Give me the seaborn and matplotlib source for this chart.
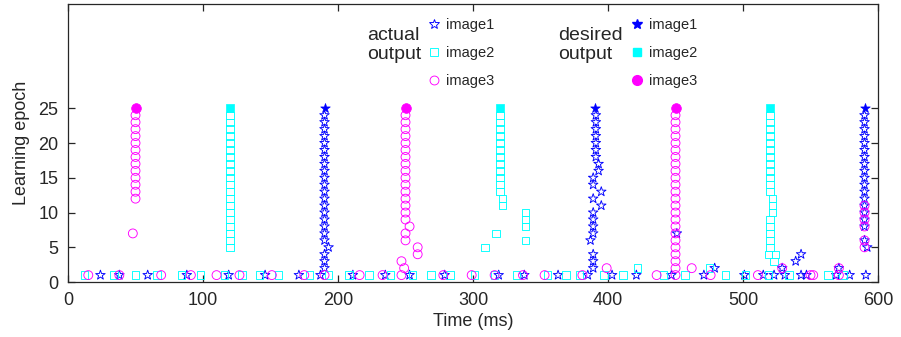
import pandas as pd
import seaborn as sns
import matplotlib.pyplot as plt
from matplotlib.lines import Line2D

# spike times (ms) of the actual output neurons, per learning epoch
image1_actual = {
    1: [24, 38, 59, 88, 119, 146, 171, 187, 211, 235, 253, 279, 319, 338, 363, 385, 403,
        421, 447, 471, 501, 515, 523, 531, 543, 547, 569, 579, 591],
    2: [190, 389, 479, 529, 571],
    3: [190, 389, 539],
    4: [190, 389, 543],
    5: [193, 592],
    6: [190, 387, 590],
    7: [190, 389, 451],
    8: [190, 389, 590],
    9: [190, 389, 590],
    10: [190, 389, 590],
    11: [190, 395, 590],
    12: [190, 389, 590],
    13: [190, 395, 590],
    14: [190, 389, 590],
    15: [190, 389, 590],
    16: [190, 393, 590],
    17: [190, 393, 590],
    18: [190, 391, 590],
    19: [190, 391, 590],
    20: [190, 391, 590],
    21: [190, 391, 590],
    22: [190, 391, 590],
    23: [190, 391, 590],
    24: [190, 391, 590],
}
image2_actual = {
    1: [12, 34, 50, 66, 84, 98, 116, 129, 142, 156, 179, 193, 208, 223, 239, 255, 269, 283,
        301, 316, 332, 355, 369, 379, 397, 411, 441, 457, 487, 502, 519, 534, 563, 574],
    2: [422, 475],
    3: [523],
    4: [519, 524],
    5: [120, 309, 520],
    6: [120, 339, 520],
    7: [120, 317, 520],
    8: [120, 339, 520],
    9: [120, 339, 520],
    10: [120, 339, 522],
    11: [120, 322, 522],
    12: [120, 322, 522],
    13: [120, 320, 520],
    14: [120, 320, 520],
    15: [120, 320, 520],
    16: [120, 320, 520],
    17: [120, 320, 520],
    18: [120, 320, 520],
    19: [120, 320, 520],
    20: [120, 320, 520],
    21: [120, 320, 520],
    22: [120, 320, 520],
    23: [120, 320, 520],
    24: [120, 320, 520],
}
image3_actual = {
    1: [15, 38, 69, 91, 110, 127, 151, 175, 190, 216, 233, 247, 278, 299, 316, 337, 353,
        381, 436, 450, 476, 511, 550, 552, 571],
    2: [249, 399, 450, 462, 529, 571],
    3: [247, 450],
    4: [259, 450],
    5: [259, 450, 590],
    6: [250, 450, 590],
    7: [48, 250, 450],
    8: [253, 450, 590],
    9: [250, 450, 590],
    10: [250, 450, 590],
    11: [250, 450, 590],
    12: [50, 250, 450],
    13: [50, 250, 450],
    14: [50, 250, 450],
    15: [50, 250, 450],
    16: [50, 250, 450],
    17: [50, 250, 450],
    18: [50, 250, 450],
    19: [50, 250, 450],
    20: [50, 250, 450],
    21: [50, 250, 450],
    22: [50, 250, 450],
    23: [50, 250, 450],
    24: [50, 250, 450],
}
# desired spike times, drawn at the last epoch
desired_epoch = 25
image1_desired = [190, 390, 590]
image2_desired = [120, 320, 520]
image3_desired = [50, 250, 450]

x_ticks = [0, 100, 200, 300, 400, 500, 600]
y_ticks = [0, 5, 10, 15, 20, 25]


def to_frame(spikes):
    rows = [(t, ep) for ep, times in spikes.items() for t in times]
    return pd.DataFrame(rows, columns=['time', 'epoch'])


actual = {'image1': to_frame(image1_actual), 'image2': to_frame(image2_actual),
          'image3': to_frame(image3_actual)}
desired = {'image1': pd.DataFrame({'time': image1_desired, 'epoch': desired_epoch}),
           'image2': pd.DataFrame({'time': image2_desired, 'epoch': desired_epoch}),
           'image3': pd.DataFrame({'time': image3_desired, 'epoch': desired_epoch})}
# marker, colour, open size, filled size
styles = {'image1': ('*', 'blue', 7.2, 7.2),
          'image2': ('s', 'cyan', 5.3, 5.3),
          'image3': ('o', 'magenta', 6.4, 7)}

sns.set_style('ticks')
plt.rcParams['font.family'] = ['Liberation Sans', 'DejaVu Sans']
fig, ax = plt.subplots(figsize=(9.01, 3.37), dpi=100)
fig.subplots_adjust(left=0.0755, right=0.9745, bottom=0.163, top=0.988)

for name, (mk, col, ms, _) in styles.items():
    sns.scatterplot(data=actual[name], x='time', y='epoch', marker=mk, s=ms ** 2,
                    color=col, facecolor='none', edgecolor=col, linewidth=0.65, ax=ax)
for name, (mk, col, _, ms) in styles.items():
    sns.scatterplot(data=desired[name], x='time', y='epoch', marker=mk, s=ms ** 2,
                    color=col, edgecolor=col, linewidth=0.5, ax=ax)

ax.set_xlim(0, 600)
ax.set_ylim(0, 40)
ax.set_xticks(x_ticks)
ax.set_yticks(y_ticks)
ax.tick_params(direction='in', top=True, right=True, length=5, width=0.9,
               labelsize=13, pad=7, color='#262626')
for sp in ax.spines.values():
    sp.set_color('#262626')
    sp.set_linewidth(0.9)
ax.set_xlabel('Time (ms)', fontsize=13, labelpad=3)
ax.set_ylabel('Learning epoch', fontsize=13, labelpad=6)

names = ['image1', 'image2', 'image3']
open_h = [Line2D([], [], ls='none', marker=styles[n][0], mfc='none', mec=styles[n][1],
                 mew=0.65, ms=styles[n][2]) for n in names]
fill_h = [Line2D([], [], ls='none', marker=styles[n][0], mfc=styles[n][1], mec=styles[n][1],
                 ms=styles[n][3]) for n in names]
leg_kw = dict(loc='upper left', frameon=False, fontsize=10.5, handlelength=0.75,
              handletextpad=0.45, labelspacing=0.95, borderpad=0, borderaxespad=0)
leg1 = ax.legend(open_h, names, bbox_to_anchor=(0.4453, 0.95), **leg_kw)
ax.add_artist(leg1)
ax.legend(fill_h, names, bbox_to_anchor=(0.6954, 0.95), **leg_kw)
ax.text(0.369, 0.853, 'actual\noutput', transform=ax.transAxes, ha='left', va='center',
        fontsize=14, linespacing=1.1, color='#262626')
ax.text(0.605, 0.853, 'desired\noutput', transform=ax.transAxes, ha='left', va='center',
        fontsize=14, linespacing=1.1, color='#262626')

fig.savefig('out.png', dpi=100)
